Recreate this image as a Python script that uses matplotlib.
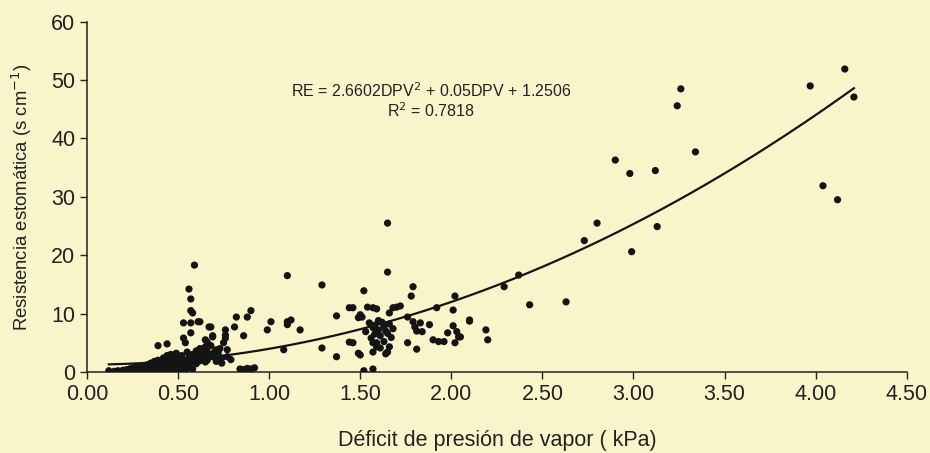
import matplotlib
matplotlib.use('Agg')
import matplotlib.pyplot as plt
import numpy as np

plt.rcParams['font.family'] = ['Liberation Sans', 'DejaVu Sans']

# low cluster, DPV < 0.75
dpv_low = [0.12, 0.15, 0.17, 0.19, 0.20, 0.22, 0.23, 0.24, 0.25, 0.26, 0.27, 0.28, 0.29, 0.30,
           0.31, 0.32, 0.33, 0.34, 0.35, 0.35, 0.36, 0.37, 0.38, 0.38, 0.39, 0.40, 0.40, 0.41,
           0.42, 0.42, 0.43, 0.43, 0.44, 0.44, 0.45, 0.45, 0.46, 0.46, 0.47, 0.47, 0.48, 0.48,
           0.49, 0.49, 0.50, 0.50, 0.51, 0.51, 0.52, 0.52, 0.53, 0.54, 0.54, 0.55, 0.55, 0.56,
           0.56, 0.57, 0.58, 0.58, 0.59, 0.60, 0.60, 0.61, 0.62, 0.62, 0.63, 0.64, 0.65, 0.66,
           0.67, 0.68, 0.69, 0.70, 0.71, 0.72, 0.73, 0.74]
re_low = [0.2, 0.1, 0.2, 0.15, 0.3, 0.4, 0.2, 0.6, 0.3, 0.8, 0.5, 0.9, 0.4, 0.6,
          1.0, 0.3, 1.2, 0.7, 1.5, 0.2, 1.0, 1.8, 0.5, 1.3, 2.0, 0.8, 1.6, 0.3,
          2.4, 1.1, 0.6, 1.8, 2.8, 1.4, 0.3, 2.0, 1.0, 3.0, 0.5, 1.7, 2.5, 0.9,
          1.3, 3.2, 0.4, 2.2, 1.1, 1.8, 0.6, 2.8, 1.5, 0.3, 2.0, 1.2, 3.4, 0.8,
          2.5, 1.6, 3.0, 0.5, 2.2, 1.4, 3.6, 2.8, 1.9, 4.0, 2.4, 3.2, 1.7, 2.0,
          3.0, 4.5, 2.6, 3.4, 1.8, 2.2, 4.0, 1.5]

dpv_mid = [0.59, 0.56, 0.57, 0.57, 0.58, 0.53, 0.57, 0.61, 0.67, 0.57, 0.53, 0.54, 0.39, 0.44,
           0.69, 0.65, 0.63, 0.66, 0.62, 0.68, 0.69, 0.76, 0.76, 0.76, 0.75, 0.77, 0.72, 0.71,
           0.74, 0.79, 0.77, 0.66, 0.65, 0.64, 0.82, 0.81, 0.86, 0.90, 0.88, 0.84, 0.86, 0.88,
           0.90, 0.92, 1.01, 0.99, 1.10, 1.12, 1.10, 1.17, 1.10, 1.29, 1.08, 1.29, 1.37, 1.44,
           1.37, 1.44]
re_mid = [18.3, 14.2, 12.5, 10.5, 10.1, 8.4, 8.4, 8.6, 7.7, 6.7, 5.8, 5.0, 4.5, 4.8,
          6.0, 4.3, 3.3, 3.5, 8.6, 7.7, 6.2, 7.2, 6.3, 5.8, 5.0, 3.8, 3.3, 3.8,
          2.4, 2.1, 2.6, 5.1, 5.5, 2.6, 9.4, 7.7, 6.2, 10.5, 9.4, 0.5, 0.4, 0.6,
          0.5, 0.7, 8.6, 7.2, 8.6, 8.9, 8.1, 7.2, 16.5, 14.9, 3.8, 4.1, 9.6, 11.0,
          2.6, 5.1]

dpv_high = [1.65, 1.65, 1.52, 1.79, 1.78, 1.46, 1.54, 1.57, 1.59, 1.50, 1.51, 1.49, 1.68, 1.70,
            1.72, 1.66, 1.92, 2.02, 2.01, 2.10, 1.88, 2.01, 1.55, 1.57, 1.58, 1.60, 1.62, 1.63,
            1.64, 1.66, 1.58, 1.61, 1.56, 1.65, 1.67, 1.63, 1.53, 1.59, 1.68, 1.60, 1.76, 1.79,
            1.80, 1.83, 1.81, 1.84, 1.98, 2.03, 2.04, 2.02, 1.90, 1.93, 1.96, 1.76, 1.81, 1.46,
            1.50, 1.49, 1.57, 1.59, 1.61, 1.57, 1.66, 1.65, 1.64, 1.52, 1.57, 2.05, 2.10, 2.19,
            2.20, 2.29, 2.37, 2.43, 2.63, 2.73, 2.80, 2.90, 2.98, 2.99, 3.12, 3.13, 3.24, 3.26,
            3.34, 3.97, 4.04, 4.12, 4.16, 4.21]
re_high = [25.5, 17.1, 13.9, 14.6, 13.0, 11.0, 11.1, 11.0, 10.8, 9.8, 9.4, 9.3, 11.0, 11.1,
           11.3, 10.1, 11.0, 13.0, 10.6, 8.9, 8.1, 7.9, 8.4, 7.6, 8.0, 7.2, 8.5, 7.8,
           7.0, 8.2, 6.5, 6.2, 5.8, 6.6, 5.9, 5.2, 6.9, 5.0, 7.4, 8.8, 9.4, 8.6,
           7.7, 8.4, 7.0, 6.9, 6.7, 6.9, 6.0, 5.0, 5.5, 5.2, 5.2, 5.0, 3.9, 5.0,
           2.9, 3.2, 5.0, 4.3, 4.1, 3.4, 4.3, 3.4, 3.1, 0.2, 0.5, 6.0, 8.7, 7.2,
           5.5, 14.6, 16.6, 11.5, 12.0, 22.5, 25.5, 36.3, 34.0, 20.6, 34.5, 24.9, 45.6, 48.5,
           37.7, 49.0, 31.9, 29.5, 51.9, 47.1]

# polynomial trendline: RE = a*DPV^2 + b*DPV + c
coef = [2.6602, 0.05, 1.2506]
r2 = 0.7818

dpv = np.array(dpv_low + dpv_mid + dpv_high)
re = np.array(re_low + re_mid + re_high)

bg = '#f8f5cb'
fig = plt.figure(figsize=(9.3, 4.53), dpi=100, facecolor=bg)
ax = fig.add_axes([0.0935, 0.179, 0.8815, 0.773], facecolor=bg)

ax.scatter(dpv, re, s=27, color='#141414', edgecolors='none', zorder=3)

xf = np.linspace(dpv.min(), dpv.max(), 200)
ax.plot(xf, np.polyval(coef, xf), color='#141414', lw=1.6, zorder=2)

ax.set_xlim(0, 4.5)
ax.set_ylim(0, 60)
ax.set_xticks(np.arange(0, 4.51, 0.5))
ax.set_xticklabels([f'{v:.2f}' for v in np.arange(0, 4.51, 0.5)])
ax.set_yticks(range(0, 61, 10))
ax.tick_params(labelsize=15.5, direction='out', length=5, width=1, colors='#222222')
for s in ['top', 'right']:
    ax.spines[s].set_visible(False)
for s in ['left', 'bottom']:
    ax.spines[s].set_color('#222222')
    ax.spines[s].set_linewidth(1.1)

ax.set_xlabel('Déficit de presión de vapor ( kPa)', fontsize=15.5, color='#222222', labelpad=18)
ax.set_ylabel('Resistencia estomática (s cm$^{-1}$)', fontsize=13.3, color='#222222', labelpad=12)

ax.text(1.89, 48.2, f'RE = {coef[0]}DPV$^{{2}}$ + {coef[1]}DPV + {coef[2]}',
        ha='center', va='center', fontsize=11.5, color='#222222')
ax.text(1.89, 44.7, f'R$^{{2}}$ = {r2}', ha='center', va='center', fontsize=11.5, color='#222222')

fig.savefig('out.png', dpi=100, facecolor=bg)
